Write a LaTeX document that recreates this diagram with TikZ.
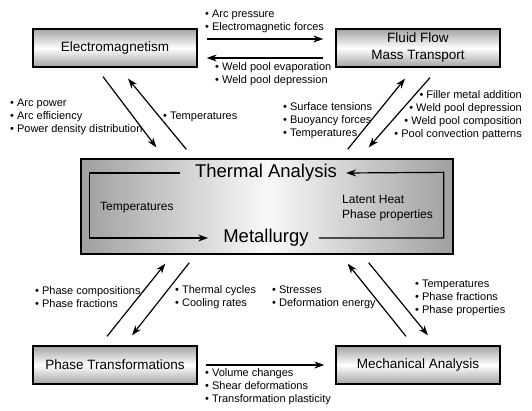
\documentclass[tikz,border=0pt]{standalone}
\usepackage{fontspec}
\setmainfont{Liberation Sans}
\usetikzlibrary{arrows.meta, calc}

\tikzset{
  box/.style={draw, line width=1.3pt, minimum width=164pt, minimum height=38pt,
    inner sep=0pt, top color=gray!72, bottom color=gray!72, middle color=white,
    font=\fontsize{13.5}{17}\selectfont, align=center},
  bigbox/.style={draw, line width=1.3pt, minimum width=372pt, minimum height=95pt,
    inner sep=0pt, left color=gray!75, right color=gray!75, middle color=gray!5},
  big/.style={font=\fontsize{18.5}{20}\selectfont, inner sep=0pt},
  lbl/.style={font=\fontsize{11}{13}\selectfont, align=left, inner sep=0pt},
  inlbl/.style={font=\fontsize{12}{15}\selectfont, align=left, inner sep=0pt},
  arr/.style={->, line width=1.2pt},
}

\begin{document}
\begin{tikzpicture}[x=1pt, y=1pt, >={Stealth[length=10pt,width=7pt]}]
	\useasboundingbox (0,0) rectangle (532,411);

	% Boxes
	\node[box] (em) at (115,363) {Electromagnetism};
	\node[box] (ff) at (418,363) {Fluid Flow\\Mass Transport};
	\node[box] (pt) at (115,46) {Phase Transformations};
	\node[box] (ma) at (418,46) {Mechanical Analysis};
	\node[bigbox] (ta) at (267,204.5) {};

	% Inner loop
	\node[big] (th) at (266,238) {Thermal Analysis};
	\node[big] (mt) at (266,173) {Metallurgy};
	\draw[arr] ([xshift=-15pt]th.west) -| ([xshift=9pt,yshift=-14pt]ta.north west)
		|- ([xshift=-15pt]mt.west);
	\draw[arr] ([xshift=10pt]mt.east) -| ([xshift=-10pt,yshift=-14pt]ta.north east)
		-- ([xshift=9pt]th.east);
	\node[inlbl, anchor=west] (tin) at (100,203) {Temperatures};
	\node[inlbl, anchor=west] (lh) at (342,202.5) {Latent Heat\\Phase properties};

	% Horizontal arrows
	\draw[arr] ($(em.east)+(9,9)$) -- ($(ff.west)+(-12,9)$);
	\draw[arr] ($(ff.west)+(-12,-10)$) -- ($(em.east)+(9,-10)$);
	\draw[arr] ($(pt.east)+(8,0)$) -- ($(ma.west)+(-11,0)$);
	\node[lbl, anchor=west] (ap) at (205,389.5) {• Arc pressure\\• Electromagnetic forces};
	\node[lbl, anchor=west] (wp) at (215,336.5) {• Weld pool evaporation\\• Weld pool depression};
	\node[lbl, anchor=west] (vc) at (205,24) {• Volume changes\\• Shear deformations\\• Transformation plasticity};

	% Diagonal arrows
	\draw[arr] ($(em.south)+(-12,-9)$) -- ($(ta.north west)+(76,11)$);
	\draw[arr] ($(ta.north west)+(106,9)$) -- ($(em.south)+(13,-11)$);
	\draw[arr] ($(ta.north east)+(-106,9)$) -- ($(ff.south)+(-13,-11)$);
	\draw[arr] ($(ff.south)+(12,-10)$) -- ($(ta.north east)+(-85,11)$);
	\draw[arr] ($(pt.north)+(-8,9)$) -- ($(ta.south west)+(85,-9)$);
	\draw[arr] ($(ta.south west)+(109,-8)$) -- ($(pt.north)+(17,10)$);
	\draw[arr] ($(ma.north)+(-12,9)$) -- ($(ta.south east)+(-106,-9)$);
	\draw[arr] ($(ta.south east)+(-85,-8)$) -- ($(ma.north)+(10,10)$);

	% Labels
	\node[lbl, anchor=west] (pw) at (10,294) {• Arc power\\• Arc efficiency\\• Power density distribution};
	\node[lbl, anchor=west] (t1) at (163,294) {• Temperatures};
	\node[lbl, anchor=west] (st) at (283,290) {• Surface tensions\\• Buoyancy forces\\• Temperatures};
	\node[lbl, anchor=east, align=right] (fm) at (522,296) {• Filler metal addition\\• Weld pool depression\\• Weld pool composition\\• Pool convection patterns};
	\node[lbl, anchor=west] (pc) at (35,114) {• Phase compositions\\• Phase fractions};
	\node[lbl, anchor=west] (tc) at (175,114) {• Thermal cycles\\• Cooling rates};
	\node[lbl, anchor=west] (ss) at (272,114) {• Stresses\\• Deformation energy};
	\node[lbl, anchor=west] (t2) at (415,113.5) {• Temperatures\\• Phase fractions\\• Phase properties};
\end{tikzpicture}
\end{document}
